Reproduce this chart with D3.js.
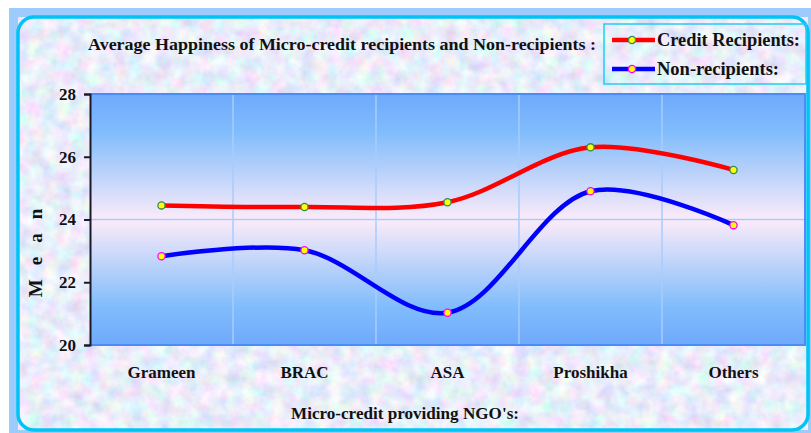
<!DOCTYPE html>
<html>
<head>
<meta charset="utf-8">
<script src="https://cdn.jsdelivr.net/npm/d3@7"></script>
<style>
  body { margin: 0; background: #fff; }
  text { font-family: "Liberation Serif", "Times New Roman", serif; font-weight: bold; fill: #111; }
</style>
</head>
<body>
<svg></svg>
<script>
// data
var ngos = ["Grameen", "BRAC", "ASA", "Proshikha", "Others"];
var creditRecipients = [24.45, 24.4, 24.55, 26.3, 25.58];
var nonRecipients = [22.83, 23.02, 21.03, 24.9, 23.82];
var yTicks = [20, 22, 24, 26, 28];

var screen = { width: 811, height: 433 };
var margins = { left: 90, right: 6, top: 94, bottom: 88 };
var graph = {
  width: screen.width - margins.left - margins.right,
  height: screen.height - margins.top - margins.bottom
};

var makeTranslateString = function (x, y) {
  return "translate(" + x + "," + y + ")";
};

var svg = d3.select("svg").attr("width", screen.width).attr("height", screen.height);
var defs = svg.append("defs");

// mottled pastel texture
var tex = defs.append("filter").attr("id", "tex").attr("x", 0).attr("y", 0).attr("width", 1).attr("height", 1);
tex.append("feTurbulence").attr("type", "fractalNoise").attr("baseFrequency", 0.07).attr("numOctaves", 3).attr("seed", 4).attr("result", "noise");
tex.append("feColorMatrix").attr("in", "noise").attr("type", "matrix")
  .attr("values", "0.6 0 0 0 0.52  0 0.5 0 0 0.6  0 0 0.3 0 0.8  0 0 0 0 1");

var grad = defs.append("linearGradient").attr("id", "plotbg").attr("x1", 0).attr("y1", 0).attr("x2", 0).attr("y2", 1);
grad.append("stop").attr("offset", "0%").attr("stop-color", "#6fa9fc");
grad.append("stop").attr("offset", "15%").attr("stop-color", "#80bcfc");
grad.append("stop").attr("offset", "50%").attr("stop-color", "#fcebf9");
grad.append("stop").attr("offset", "85%").attr("stop-color", "#80bcfc");
grad.append("stop").attr("offset", "100%").attr("stop-color", "#6fa9fc");

// outer frame
svg.append("rect").attr("x", 9).attr("y", 8).attr("width", 802).attr("height", 425).attr("fill", "#9ccbfc");
svg.append("rect").attr("x", 18).attr("y", 17).attr("width", 790).attr("height", 413).attr("rx", 16)
  .attr("fill", "#d9def7").attr("filter", "url(#tex)");
svg.append("rect").attr("x", 18).attr("y", 17).attr("width", 790).attr("height", 413).attr("rx", 16)
  .attr("fill", "none").attr("stroke", "#00c4f4").attr("stroke-width", 3.5);

var xScale = d3.scaleBand().domain(ngos).range([0, graph.width]).padding(0);
var yScale = d3.scaleLinear().domain([20, 28]).range([graph.height, 0]);

var plot = svg.append("g").attr("transform", makeTranslateString(margins.left, margins.top));

plot.append("rect").attr("width", graph.width).attr("height", graph.height).attr("fill", "url(#plotbg)");

// vertical grid between categories
plot.selectAll("line.vgrid")
  .data(ngos.slice(1))
  .enter()
  .append("line")
  .attr("class", "vgrid")
  .attr("x1", function (d) { return xScale(d); })
  .attr("x2", function (d) { return xScale(d); })
  .attr("y1", 0)
  .attr("y2", graph.height)
  .attr("stroke", "#a8cdfc")
  .attr("stroke-width", 1.5);

plot.append("line")
  .attr("x1", 0).attr("x2", graph.width)
  .attr("y1", yScale(24)).attr("y2", yScale(24))
  .attr("stroke", "#a8cdfc").attr("stroke-width", 1.5);

// plot border (top/right/bottom)
plot.append("path")
  .attr("d", "M0,0H" + graph.width + "V" + graph.height + "H0")
  .attr("fill", "none").attr("stroke", "#4c8cf8").attr("stroke-width", 2);

var yAxis = d3.axisLeft(yScale).tickValues(yTicks).tickSize(6).tickSizeOuter(6).tickPadding(8);
var yg = plot.append("g").call(yAxis);
yg.select(".domain").attr("stroke", "#1a1a2a").attr("stroke-width", 2);
yg.selectAll(".tick line").attr("stroke", "#1a1a2a").attr("stroke-width", 2);
yg.selectAll(".tick text").style("font-size", "17px").style("font-family", "Liberation Serif").style("font-weight", "bold").attr("fill", "#111");

var cx = function (i) { return xScale(ngos[i]) + xScale.bandwidth() / 2; };

var line = d3.line()
  .x(function (d, i) { return cx(i); })
  .y(function (d) { return yScale(d); })
  .curve(d3.curveCatmullRom.alpha(0.5));

var series = [
  { values: creditRecipients, color: "#ff0000", ring: "#2e8b57" },
  { values: nonRecipients, color: "#0000ff", ring: "#ff00ff" }
];

series.forEach(function (s) {
  plot.append("path")
    .attr("d", line(s.values))
    .attr("fill", "none")
    .attr("stroke", s.color)
    .attr("stroke-width", 4.5);
  plot.selectAll(null)
    .data(s.values)
    .enter()
    .append("circle")
    .attr("cx", function (d, i) { return cx(i); })
    .attr("cy", function (d) { return yScale(d); })
    .attr("r", 3.6)
    .attr("fill", "#ffff00")
    .attr("stroke", s.ring)
    .attr("stroke-width", 1.3);
});

// category labels
plot.selectAll("text.cat")
  .data(ngos)
  .enter()
  .append("text")
  .attr("class", "cat")
  .attr("x", function (d) { return xScale(d) + xScale.bandwidth() / 2; })
  .attr("y", graph.height + 33)
  .attr("text-anchor", "middle")
  .style("font-size", "17px")
  .text(function (d) { return d; });

// labels
svg.append("text")
  .attr("x", 88).attr("y", 50)
  .style("font-size", "16.5px")
  .attr("textLength", 508)
  .attr("lengthAdjust", "spacingAndGlyphs")
  .text("Average Happiness of Micro-credit recipients and Non-recipients :");

svg.append("text")
  .attr("x", 405).attr("y", 419)
  .attr("text-anchor", "middle")
  .style("font-size", "17px")
  .attr("textLength", 228)
  .attr("lengthAdjust", "spacingAndGlyphs")
  .text("Micro-credit providing NGO's:");

svg.append("text")
  .attr("transform", "translate(42,246) rotate(-90)")
  .attr("text-anchor", "middle")
  .style("font-size", "19px")
  .style("letter-spacing", "14px")
  .text("Mean");

// legend
var legend = svg.append("g").attr("class", "legend").attr("transform", makeTranslateString(604, 24));
legend.append("rect").attr("width", 202).attr("height", 60)
  .attr("fill", "none").attr("stroke", "#22ccf4").attr("stroke-width", 1.5);

var legendNames = ["Credit Recipients:", "Non-recipients:"];
var legendWidths = [143, 122];
var entries = legend.selectAll("g.entry")
  .data(series)
  .enter()
  .append("g")
  .attr("class", "entry")
  .attr("transform", function (d, i) { return makeTranslateString(0, 16 + i * 29); });

entries.append("line").attr("x1", 8).attr("x2", 51).attr("y1", 0).attr("y2", 0)
  .attr("stroke", function (d) { return d.color; }).attr("stroke-width", 4.5);
entries.append("circle").attr("cx", 28).attr("cy", 0).attr("r", 3.6)
  .attr("fill", "#ffff00").attr("stroke", function (d) { return d.ring; }).attr("stroke-width", 1.3);
entries.append("text").attr("x", 53).attr("y", 6)
  .style("font-size", "18px")
  .attr("textLength", function (d, i) { return legendWidths[i]; })
  .attr("lengthAdjust", "spacingAndGlyphs")
  .text(function (d, i) { return legendNames[i]; });
</script>
</body>
</html>
